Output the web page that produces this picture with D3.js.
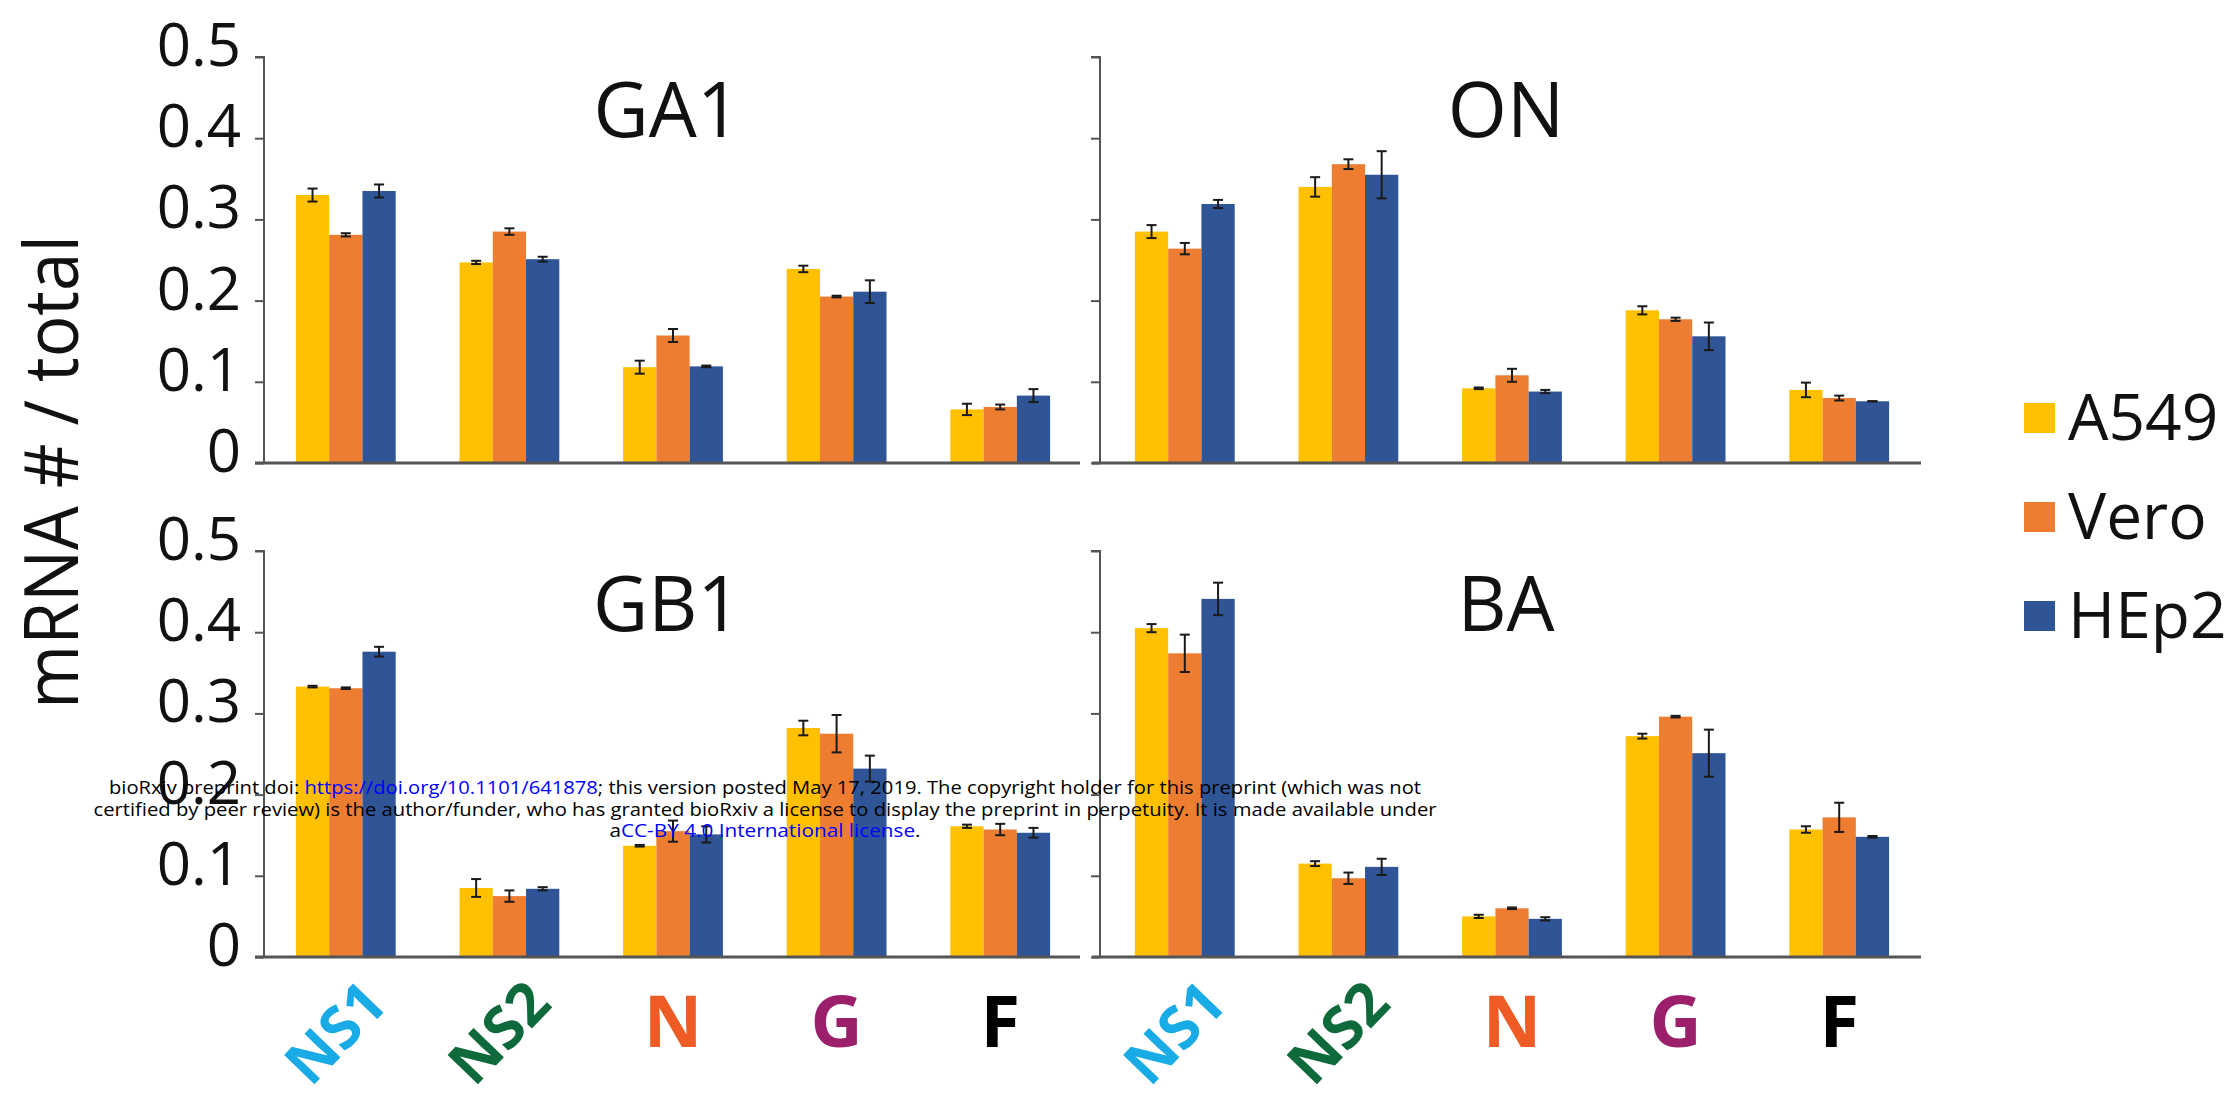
<!DOCTYPE html>
<html>
<head>
<meta charset="utf-8">
<script src="https://cdn.jsdelivr.net/npm/d3@7"></script>
<style>
  html, body { margin: 0; padding: 0; background: #fff; }
  svg { display: block; }
  text { font-family: "Open Sans", "DejaVu Sans", sans-serif; }
</style>
</head>
<body>
<script>
// ---------------- data ----------------
const categories = ["NS1", "NS2", "N", "G", "F"];
const categoryColors = ["#19ABE6", "#0E6A3B", "#EE5B24", "#9C1F6C", "#000000"];
const series = ["A549", "Vero", "HEp2"];
const seriesColors = ["#FFC000", "#ED7D31", "#2F5597"];
const yTicks = [0, 0.1, 0.2, 0.3, 0.4, 0.5];
const yTickLabels = ["0", "0.1", "0.2", "0.3", "0.4", "0.5"];
const panelNames = ["GA1", "ON", "GB1", "BA"];

const GA1_A549 = [0.330, 0.247, 0.118, 0.239, 0.066];
const GA1_Vero = [0.281, 0.285, 0.157, 0.205, 0.069];
const GA1_HEp2 = [0.335, 0.251, 0.119, 0.211, 0.083];
const GA1_A549_err = [0.008, 0.002, 0.008, 0.004, 0.007];
const GA1_Vero_err = [0.002, 0.004, 0.008, 0.001, 0.003];
const GA1_HEp2_err = [0.008, 0.003, 0.001, 0.014, 0.008];

const ON_A549 = [0.285, 0.340, 0.092, 0.188, 0.090];
const ON_Vero = [0.264, 0.368, 0.108, 0.177, 0.080];
const ON_HEp2 = [0.319, 0.355, 0.088, 0.156, 0.076];
const ON_A549_err = [0.008, 0.012, 0.001, 0.005, 0.009];
const ON_Vero_err = [0.007, 0.006, 0.008, 0.002, 0.003];
const ON_HEp2_err = [0.005, 0.029, 0.002, 0.017, 0.000];

const GB1_A549 = [0.333, 0.085, 0.137, 0.282, 0.161];
const GB1_Vero = [0.331, 0.075, 0.155, 0.275, 0.157];
const GB1_HEp2 = [0.376, 0.084, 0.151, 0.232, 0.153];
const GB1_A549_err = [0.001, 0.011, 0.001, 0.009, 0.002];
const GB1_Vero_err = [0.001, 0.007, 0.013, 0.023, 0.007];
const GB1_HEp2_err = [0.006, 0.002, 0.010, 0.016, 0.006];

const BA_A549 = [0.405, 0.115, 0.050, 0.272, 0.157];
const BA_Vero = [0.374, 0.097, 0.060, 0.296, 0.172];
const BA_HEp2 = [0.441, 0.111, 0.047, 0.251, 0.148];
const BA_A549_err = [0.005, 0.003, 0.002, 0.003, 0.004];
const BA_Vero_err = [0.023, 0.007, 0.001, 0.001, 0.018];
const BA_HEp2_err = [0.020, 0.010, 0.002, 0.029, 0.001];

const yAxisTitle = "mRNA # / total";
const watermark1 = ["bioRxiv preprint doi: ", "https://doi.org/10.1101/641878", "; this version posted May 17, 2019. The copyright holder for this preprint (which was not"];
const watermark2 = ["certified by peer review) is the author/funder, who has granted bioRxiv a license to display the preprint in perpetuity. It is made available under"];
const watermark3 = ["a", "CC-BY 4.0 International license", "."];

// ---------------- build ----------------
const panelData = {
  GA1: { values: [GA1_A549, GA1_Vero, GA1_HEp2], errs: [GA1_A549_err, GA1_Vero_err, GA1_HEp2_err] },
  ON:  { values: [ON_A549, ON_Vero, ON_HEp2],    errs: [ON_A549_err, ON_Vero_err, ON_HEp2_err] },
  GB1: { values: [GB1_A549, GB1_Vero, GB1_HEp2], errs: [GB1_A549_err, GB1_Vero_err, GB1_HEp2_err] },
  BA:  { values: [BA_A549, BA_Vero, BA_HEp2],    errs: [BA_A549_err, BA_Vero_err, BA_HEp2_err] }
};

const W = 2239, H = 1094;
const svg = d3.select("body").append("svg").attr("width", W).attr("height", H);
svg.append("rect").attr("width", W).attr("height", H).attr("fill", "#fff");

const cols = [
  { axisX: 264, band: [264, 1082], base: [255, 1080], labels: true },
  { axisX: 1100, band: [1103, 1921], base: [1092, 1921], labels: false }
];
const rows = [
  { range: [463, 57], top: true },
  { range: [957, 551], top: false }
];

panelNames.forEach((name, i) => {
  const c = cols[i % 2], r = rows[Math.floor(i / 2)];
  const x0 = d3.scaleBand().domain(categories).range(c.band).paddingInner(0.39).paddingOuter(0.195);
  const x1 = d3.scaleBand().domain(series).range([0, x0.bandwidth()]);
  const y = d3.scaleLinear().domain([0, 0.5]).range(r.range);
  const g = svg.append("g");
  const pd = panelData[name];

  // bars
  const flat = [];
  categories.forEach((cat, ci) => series.forEach((s, si) => {
    flat.push({ cat, s, si, v: pd.values[si][ci], e: pd.errs[si][ci] });
  }));
  g.selectAll("rect.bar").data(flat).join("rect")
    .attr("class", "bar")
    .attr("x", d => x0(d.cat) + x1(d.s))
    .attr("width", x1.bandwidth())
    .attr("y", d => y(d.v))
    .attr("height", d => y(0) - y(d.v))
    .attr("fill", d => seriesColors[d.si]);

  // error bars
  const eb = g.selectAll("g.err").data(flat).join("g").attr("class", "err")
    .attr("stroke", "#1a1a1a").attr("stroke-width", 2);
  eb.append("line")
    .attr("x1", d => x0(d.cat) + x1(d.s) + x1.bandwidth() / 2)
    .attr("x2", d => x0(d.cat) + x1(d.s) + x1.bandwidth() / 2)
    .attr("y1", d => y(d.v + d.e)).attr("y2", d => y(d.v - d.e));
  [1, -1].forEach(sg => {
    eb.append("line")
      .attr("x1", d => x0(d.cat) + x1(d.s) + x1.bandwidth() / 2 - 5)
      .attr("x2", d => x0(d.cat) + x1(d.s) + x1.bandwidth() / 2 + 5)
      .attr("y1", d => y(d.v + sg * d.e)).attr("y2", d => y(d.v + sg * d.e));
  });

  // y axis
  const ax = d3.axisLeft(y).tickValues(yTicks).tickSize(9).tickPadding(14)
    .tickFormat((d, k) => c.labels ? yTickLabels[k] : "");
  const ag = svg.append("g").attr("transform", `translate(${c.axisX},0)`).call(ax);
  ag.select(".domain").attr("stroke", "#555").attr("stroke-width", 2).attr("d", `M-9,${y(0.5)}H0V${y(0)}`);
  ag.selectAll(".tick line").attr("stroke", "#555").attr("stroke-width", 2);
  ag.selectAll(".tick text")
    .attr("font-family", "'Open Sans', sans-serif")
    .attr("font-size", 60).attr("fill", "#111").attr("dy", "0.14em");

  // baseline
  svg.append("line").attr("x1", c.base[0]).attr("x2", c.base[1])
    .attr("y1", y(0)).attr("y2", y(0)).attr("stroke", "#555").attr("stroke-width", 3);

  // panel title
  svg.append("text").attr("x", (c.band[0] + c.band[1]) / 2 - 6).attr("y", y(0.5) + 80)
    .attr("text-anchor", "middle").attr("font-size", 76).attr("fill", "#111").text(name);

  // x labels (bottom row only)
  if (!r.top) {
    categories.forEach((cat, ci) => {
      const cx = x0(cat) + x0.bandwidth() / 2;
      const t = svg.append("text").attr("font-weight", 700).attr("fill", categoryColors[ci]).text(cat);
      if (cat.length > 1) {
        t.attr("font-size", 59).attr("text-anchor", "middle").attr("dominant-baseline", "central")
          .attr("transform", `translate(${cx - 12},1031) rotate(-46)`);
      } else {
        t.attr("font-size", 72).attr("text-anchor", "middle").attr("x", cx).attr("y", 1047);
      }
    });
  }
});

// y axis title
svg.append("text").attr("transform", "translate(78,472) rotate(-90)")
  .attr("text-anchor", "middle").attr("font-size", 75).attr("fill", "#111")
  .attr("textLength", 474).attr("lengthAdjust", "spacingAndGlyphs").text(yAxisTitle);

// legend
const lg = svg.append("g").attr("transform", "translate(2024,418)");
series.forEach((s, i) => {
  lg.append("rect").attr("x", 0).attr("y", i * 99 - 15).attr("width", 31).attr("height", 30).attr("fill", seriesColors[i]);
  lg.append("text").attr("x", 44).attr("y", i * 99 + 22).attr("font-size", 64).attr("fill", "#111").text(s);
});

// watermark
function wm(parts, yb, width, blueIdx) {
  const t = svg.append("text").attr("x", 765).attr("y", yb).attr("text-anchor", "middle")
    .attr("font-family", "'Liberation Sans', Arial, sans-serif").attr("font-size", 18.5)
    .attr("textLength", width).attr("lengthAdjust", "spacingAndGlyphs");
  parts.forEach((p, k) => t.append("tspan").attr("fill", k === blueIdx ? "#0000FF" : "#000").text(p));
}
wm(watermark1, 794, 1312, 1);
wm(watermark2, 816, 1343, -1);
wm(watermark3, 837, 311, 1);
</script>
</body>
</html>
